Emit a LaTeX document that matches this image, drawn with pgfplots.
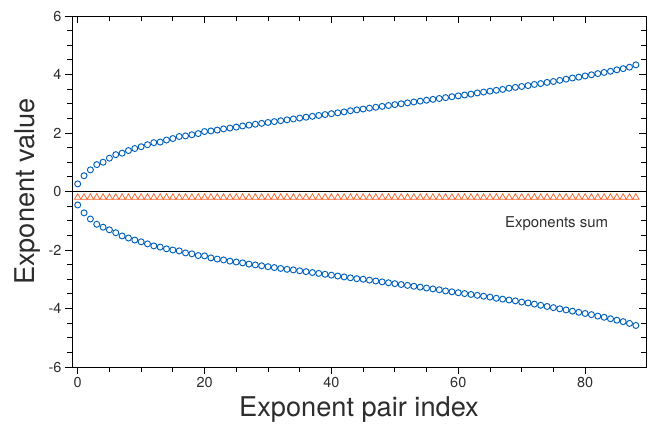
\documentclass[border=0pt]{standalone}
\usepackage{pgfplots}
\pgfplotsset{compat=1.18}
\usepackage{pgfplotstable}
\usepackage{fontspec}
\setmainfont{TeX Gyre Heros}
\definecolor{cblue}{RGB}{0,96,190}
\definecolor{corange}{RGB}{255,98,40}
\definecolor{tgray}{RGB}{45,45,45}

\pgfplotstableread{
i up lo s
0 0.26 -0.46 -0.20
1 0.54 -0.73 -0.20
2 0.74 -0.94 -0.20
3 0.92 -1.12 -0.20
4 1.00 -1.22 -0.20
5 1.14 -1.31 -0.20
6 1.26 -1.41 -0.20
7 1.31 -1.52 -0.20
8 1.40 -1.59 -0.20
9 1.47 -1.66 -0.20
10 1.53 -1.72 -0.20
11 1.60 -1.79 -0.20
12 1.67 -1.86 -0.20
13 1.69 -1.90 -0.20
14 1.76 -1.96 -0.20
15 1.81 -2.00 -0.20
16 1.88 -2.03 -0.20
17 1.90 -2.10 -0.20
18 1.94 -2.13 -0.20
19 1.98 -2.19 -0.20
20 2.05 -2.20 -0.20
21 2.07 -2.27 -0.20
22 2.10 -2.31 -0.20
23 2.14 -2.34 -0.20
24 2.17 -2.38 -0.20
25 2.20 -2.41 -0.20
26 2.24 -2.44 -0.20
27 2.27 -2.48 -0.20
28 2.30 -2.51 -0.20
29 2.33 -2.54 -0.20
30 2.36 -2.57 -0.20
31 2.39 -2.60 -0.20
32 2.42 -2.63 -0.20
33 2.45 -2.66 -0.20
34 2.48 -2.68 -0.20
35 2.51 -2.71 -0.20
36 2.54 -2.74 -0.20
37 2.57 -2.77 -0.20
38 2.60 -2.80 -0.20
39 2.63 -2.83 -0.20
40 2.66 -2.86 -0.20
41 2.69 -2.89 -0.20
42 2.72 -2.92 -0.20
43 2.76 -2.95 -0.20
44 2.79 -2.98 -0.20
45 2.82 -3.00 -0.20
46 2.85 -3.03 -0.20
47 2.88 -3.06 -0.20
48 2.91 -3.09 -0.20
49 2.94 -3.12 -0.20
50 2.97 -3.15 -0.20
51 3.00 -3.18 -0.20
52 3.03 -3.21 -0.20
53 3.06 -3.24 -0.20
54 3.09 -3.27 -0.20
55 3.12 -3.30 -0.20
56 3.15 -3.33 -0.20
57 3.18 -3.36 -0.20
58 3.21 -3.40 -0.20
59 3.24 -3.43 -0.20
60 3.27 -3.46 -0.20
61 3.30 -3.49 -0.20
62 3.33 -3.52 -0.20
63 3.37 -3.55 -0.20
64 3.40 -3.58 -0.20
65 3.43 -3.61 -0.20
66 3.46 -3.65 -0.20
67 3.49 -3.68 -0.20
68 3.53 -3.71 -0.20
69 3.56 -3.74 -0.20
70 3.59 -3.78 -0.20
71 3.62 -3.81 -0.20
72 3.66 -3.85 -0.20
73 3.69 -3.89 -0.20
74 3.73 -3.93 -0.20
75 3.76 -3.97 -0.20
76 3.80 -4.01 -0.20
77 3.84 -4.05 -0.20
78 3.88 -4.09 -0.20
79 3.91 -4.13 -0.20
80 3.95 -4.17 -0.20
81 3.99 -4.21 -0.20
82 4.03 -4.26 -0.20
83 4.07 -4.30 -0.20
84 4.11 -4.35 -0.20
85 4.16 -4.40 -0.20
86 4.20 -4.45 -0.20
87 4.25 -4.51 -0.20
88 4.33 -4.58 -0.20
}\datatable

\pgfplotsset{
  commonaxis/.style={
    at={(0,0)}, anchor=south west,
    scale only axis, width=574bp, height=351bp,
    xmin=-0.9, xmax=89.6, ymin=-6, ymax=6,
    xtick={0,20,40,60,80}, ytick={-6,-4,-2,0,2,4,6},
    minor x tick num=3, minor y tick num=3,
    major tick length=7bp, minor tick length=5bp,
    tick style={black, line width=0.8bp},
    axis line style={black, line width=0.8bp},
  }
}

\begin{document}
\begin{tikzpicture}
\useasboundingbox (-72bp,-58bp) rectangle (578bp,367bp);
\begin{axis}[
  commonaxis,
  xticklabels={0,20,40,60,80},
  yticklabels={-6,-4,-2,0,2,4,6},
  xtick pos=bottom, ytick pos=left, tick align=outside,
  ticklabel style={font=\fontsize{14.5}{16}\selectfont, text=tgray},
  xlabel={Exponent pair index}, ylabel={Exponent value},
  label style={font=\fontsize{27.3}{30}\selectfont, text=tgray},
  xlabel style={at={(axis description cs:0.5,-0.1225)}, anchor=center},
  ylabel style={at={(axis description cs:-0.0767,0.5)}, anchor=center},
]
\addplot[black, line width=0.8bp, forget plot] coordinates {(-0.9,0) (89.6,0)};
\addplot[only marks, mark=triangle, mark size=3.6bp, color=corange, mark options={line width=0.75bp}] table[x=i,y=s]{\datatable};
\addplot[only marks, mark=o, mark size=3bp, color=cblue, mark options={line width=0.95bp}] table[x=i,y=up]{\datatable};
\addplot[only marks, mark=o, mark size=3bp, color=cblue, mark options={line width=0.95bp}] table[x=i,y=lo]{\datatable};
\node[font=\fontsize{15}{17}\selectfont, text=tgray] at (axis cs:75.5,-1.1) {Exponents sum};
\end{axis}
\begin{axis}[
  commonaxis,
  xticklabels={}, yticklabels={},
  xtick pos=top, ytick pos=right, tick align=inside,
  axis line style={draw=none},
]
\end{axis}
\end{tikzpicture}
\end{document}
